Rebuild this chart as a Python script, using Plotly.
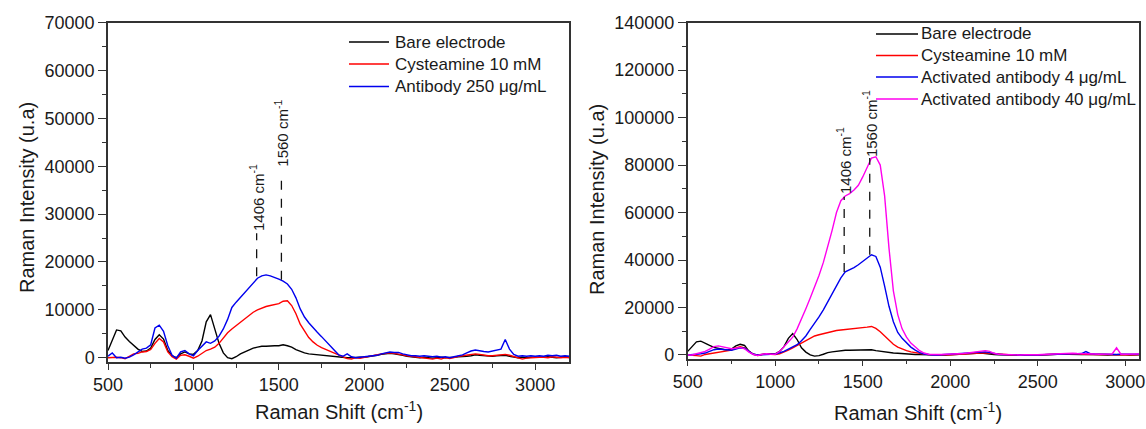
import plotly.graph_objects as go

# ---------------- data ----------------
left_x = list(range(500, 3201, 25))
left_bare = [
    1500, 3500, 5800, 5600, 4300, 3400, 2600, 1800, 1300, 1400,
    2000, 3800, 4800, 3900, 1500, 400, 0, 800, 1200, 800,
    700, 1500, 3500, 7500, 9000, 6000, 3000, 1000, 0, -200,
    200, 800, 1200, 1600, 2000, 2200, 2400, 2400, 2500, 2500,
    2500, 2700, 2500, 2200, 1700, 1300, 1000, 800, 700, 600,
    500, 400, 300, 200, 100, 100, 0, 0, 100, 100,
    100, 200, 300, 500, 700, 800, 900, 800, 700, 500,
    300, 200, 100, 0, 100, 0, -100, 0, 100, 0,
    0, 100, 200, 200, 300, 400, 600, 500, 400, 300,
    300, 400, 500, 500, 300, 100, 0, 100, 0, 100,
    100, 0, 100, 200, 100, 0, 100, 200, 100,
]
left_cys = [
    0, 100, 100, 0, -200, 300, 800, 900, 1200, 1300,
    1700, 3000, 4000, 3300, 1200, 200, -300, 500, 600, 300,
    -100, 300, 1000, 1500, 1800, 2200, 3000, 4200, 5200, 6000,
    6700, 7400, 8000, 8800, 9500, 10000, 10400, 10700, 10900, 11100,
    11300, 11800, 11900, 10900, 9200, 7000, 5500, 4200, 3300, 2600,
    2100, 1700, 1300, 900, 500, 200, -200, -300, 0, -100,
    100, 200, 400, 600, 800, 900, 1000, 900, 800, 600,
    400, 300, 200, 0, -100, -200, -300, -100, -300, 0,
    -200, 0, 300, 400, 500, 600, 800, 700, 500, 400,
    400, 500, 600, 700, 500, 200, 0, -300, -100, 0,
    0, 100, 100, 0, 200, 100, 0, 100, 0,
]
left_ab = [
    300, 1000, 0, 100, -100, 100, 600, 1200, 1800, 2000,
    2700, 6200, 6800, 5500, 2500, 500, -100, 1200, 1500, 800,
    400, 1500, 2500, 3300, 3000, 3500, 4500, 6000, 8000, 10500,
    11600, 12600, 13500, 14500, 15500, 16600, 17100, 17300, 17100, 16800,
    16400, 16000, 15400, 14300, 12500, 10200, 8500, 7300, 6200, 5300,
    4400, 3500, 2500, 1500, 600, 300, 800, 200, 0, 100,
    200, 300, 300, 500, 800, 1000, 1200, 1100, 1100, 800,
    600, 400, 400, 300, 400, 300, 200, 300, 100, 200,
    0, 200, 400, 600, 1000, 1400, 1600, 1400, 1300, 1200,
    1400, 1600, 1800, 3800, 1800, 700, 300, 400, 300, 400,
    300, 400, 300, 500, 400, 500, 300, 400, 300,
]

right_x = list(range(500, 3101, 25))
right_bare = [
    1500, 3500, 5500, 5800, 4800, 4000, 3200, 2800, 2200, 2000,
    2500, 3800, 4500, 4000, 1500, 300, 0, 300, 500, 500,
    500, 1500, 3500, 7000, 9000, 6500, 3000, 1200, 0, -500,
    -300, 300, 1000, 1300, 1600, 1800, 2000, 2000, 2100, 2200,
    2300, 2300, 2200, 1800, 1500, 1200, 1000, 800, 700, 500,
    400, 300, 200, 200, 100, 0, 0, 100, 0, 0,
    100, 200, 300, 500, 700, 900, 1000, 800, 600, 300,
    200, 100, 0, 0, 100, 0, 0, 100, 0, 0,
    0, 100, 100, 200, 300, 300, 400, 300, 200, 200,
    200, 300, 200, 100, 200, 100, 0, 100, 200, 100,
    100, 0, 100, 200, 100,
]
right_cys = [
    0, 0, -300, -500, 200, 500, 800, 1000, 1200, 1500,
    2000, 3000, 3500, 3000, 1500, 300, -200, 300, 500, 300,
    200, 500, 1200, 2000, 3000, 4000, 5000, 6000, 7000, 8000,
    8500, 9000, 9500, 10000, 10300, 10500, 10700, 10800, 10900, 11000,
    11200, 11700, 12000, 11200, 9800, 8000, 6000, 4500, 3300, 2500,
    1800, 1300, 900, 600, 400, 200, 100, 0, 0, 100,
    100, 200, 300, 500, 600, 800, 900, 1000, 900, 700,
    500, 300, 200, 100, 0, 100, 0, 0, 100, 0,
    0, 100, 200, 300, 400, 400, 500, 500, 400, 300,
    300, 400, 300, 200, 300, 200, 100, 200, 100, 200,
    100, 200, 100, 200, 100,
]
right_ab4 = [
    0, 0, 300, 500, 800, 1500, 2200, 2500, 2400, 2000,
    2000, 2500, 3000, 2800, 1500, 300, 0, 200, 300, 300,
    300, 800, 1500, 2500, 3500, 4300, 6000, 8000, 10800, 13300,
    16000, 19000, 22500, 26000, 29500, 32500, 35000, 35800, 36800, 38000,
    39300, 40800, 42200, 41500, 37000, 29000, 20500, 14000, 9500, 7000,
    5000, 3300, 2000, 1000, 400, 100, 0, 0, 100, 200,
    200, 300, 400, 500, 600, 800, 900, 1100, 1300, 1000,
    600, 300, 200, 100, 0, 100, 0, 100, 0, 100,
    0, 100, 200, 300, 400, 500, 500, 600, 500, 500,
    600, 1400, 500, 400, 300, 300, 200, 300, 200, 300,
    300, 200, 300, 200, 300,
]
right_ab40 = [
    0, 0, 500, 1000, 1500, 2500, 3500, 3800, 3500, 3000,
    2600, 2800, 3200, 2600, 1200, 200, -200, 300, 500, 300,
    300, 1500, 3500, 5500, 7500, 11000, 15000, 19500, 24000, 28500,
    33500, 39000, 45500, 52500, 60000, 65000, 67000, 68000, 69500, 71500,
    75000, 79000, 83000, 83500, 80000, 67000, 45000, 27000, 17000, 11000,
    7500, 5000, 3200, 1800, 800, 300, 200, 100, 200, 300,
    300, 400, 500, 600, 800, 1000, 1200, 1500, 1800, 1500,
    700, 300, 200, 100, 0, 100, 0, 100, 0, 100,
    100, 200, 300, 400, 500, 600, 700, 800, 700, 600,
    600, 700, 500, 400, 300, 300, 300, 400, 3000, 300,
    300, 400, 300, 400, 300,
]

left_names = ["Bare electrode", "Cysteamine 10 mM", "Antibody 250 \u03bcg/mL"]
right_names = ["Bare electrode", "Cysteamine 10 mM",
               "Activated antibody 4 \u03bcg/mL", "Activated antibody 40 \u03bcg/mL"]

# peak markers: (label, x, line bottom, line top, label centre y)
left_marks = [("1406", 1370, 17000, 26000, 33500), ("1560", 1515, 16300, 38800, 46900)]
right_marks = [("1406", 1394, 35000, 66700, 81800), ("1560", 1540, 42200, 83000, 97600)]

# ---------------- figure ----------------
FONT = "Liberation Sans, Arial, sans-serif"
TXT = "#1a1a1a"
colors = {"black": "#000000", "red": "#ff0000", "blue": "#0000ee", "magenta": "#ff00ee"}
left_colors = ["black", "red", "blue"]
right_colors = ["black", "red", "blue", "magenta"]

fig = go.Figure()
for ys, nm, c in zip([left_bare, left_cys, left_ab], left_names, left_colors):
    fig.add_trace(go.Scatter(x=left_x, y=ys, name=nm, mode="lines",
                             line=dict(color=colors[c], width=1.4),
                             xaxis="x", yaxis="y", showlegend=False))
for ys, nm, c in zip([right_bare, right_cys, right_ab4, right_ab40], right_names,
                     right_colors):
    fig.add_trace(go.Scatter(x=right_x, y=ys, name=nm, mode="lines",
                             line=dict(color=colors[c], width=1.4),
                             xaxis="x2", yaxis="y2", showlegend=False))

W, H = 1146, 429
axcommon = dict(showline=True, linecolor="#333333", linewidth=1.5, mirror=True,
                showgrid=False, zeroline=False, ticks="outside", tickcolor="#333333",
                tickwidth=1.2, automargin=False,
                tickfont=dict(family=FONT, size=18, color=TXT))

fig.update_layout(
    template="none",
    width=W, height=H, margin=dict(l=0, r=0, t=0, b=0, pad=0, autoexpand=False),
    paper_bgcolor="white", plot_bgcolor="white", showlegend=False,
    font=dict(family=FONT, color=TXT),
    xaxis=dict(domain=[108 / W, 569.3 / W], range=[500, 3200], dtick=500, ticklen=6,
               minor=dict(dtick=250, ticks="outside", ticklen=4, tickcolor="#333333"),
               anchor="y", **axcommon),
    yaxis=dict(domain=[1 - 362 / H, 1 - 22.7 / H], range=[-900, 70000], dtick=10000,
               tickformat="d", ticklen=8,
               minor=dict(dtick=5000, ticks="outside", ticklen=4, tickcolor="#333333"),
               anchor="x", **axcommon),
    xaxis2=dict(domain=[687.7 / W, 1139.3 / W], range=[500, 3080], dtick=500, ticklen=6,
                minor=dict(dtick=250, ticks="outside", ticklen=4, tickcolor="#333333"),
                anchor="y2", **axcommon),
    yaxis2=dict(domain=[1 - 358.5 / H, 1 - 22.7 / H], range=[-1500, 140000], dtick=20000,
                tickformat="d", ticklen=8,
                minor=dict(dtick=10000, ticks="outside", ticklen=4, tickcolor="#333333"),
                anchor="x2", **axcommon),
)

# legends drawn as key lines + text (paper coordinates, pixels converted)
def add_key(names, cols, line_x0, line_x1, text_x, rows):
    for nm, c, ry in zip(names, cols, rows):
        fig.add_shape(type="line", xref="paper", yref="paper",
                      x0=line_x0 / W, x1=line_x1 / W, y0=1 - ry / H, y1=1 - ry / H,
                      line=dict(color=colors[c], width=1.6))
        fig.add_annotation(text=nm, x=text_x / W, y=1 - ry / H, xref="paper", yref="paper",
                           showarrow=False, xanchor="left", yanchor="middle",
                           font=dict(family=FONT, size=17, color=TXT))

add_key(left_names, left_colors, 349, 389, 393, [42, 64, 86.5])
add_key(right_names, right_colors, 876, 918, 919, [34, 55.5, 77, 99])

# axis titles
titles = [
    ("Raman Shift (cm<sup>-1</sup>)", 339 / W, 1 - 410 / H, 0),
    ("Raman Shift (cm<sup>-1</sup>)", 918 / W, 1 - 411 / H, 0),
    ("Raman Intensity (u.a)", 27 / W, 1 - 198 / H, -90),
    ("Raman Intensity (u.a)", 597 / W, 1 - 200 / H, -90),
]
for t, x, y, a in titles:
    fig.add_annotation(text=t, x=x, y=y, xref="paper", yref="paper", showarrow=False,
                       textangle=a, xanchor="center", yanchor="middle",
                       font=dict(family=FONT, size=20, color=TXT))

# peak markers
for marks, xr, yr in [(left_marks, "x", "y"), (right_marks, "x2", "y2")]:
    for lab, px, y0, y1, ty in marks:
        fig.add_shape(type="line", xref=xr, yref=yr, x0=px, x1=px, y0=y0, y1=y1,
                      line=dict(color="#111111", width=1.3, dash="dash"))
        fig.add_annotation(text=lab + " cm<sup>-1</sup>", x=px, y=ty, xref=xr, yref=yr,
                           showarrow=False, textangle=-90, xanchor="center",
                           yanchor="middle", font=dict(family=FONT, size=15, color=TXT))

fig.write_html("out.html", config={"displayModeBar": False},
               post_script="document.body.style.margin='0';document.body.style.overflow='hidden';")
